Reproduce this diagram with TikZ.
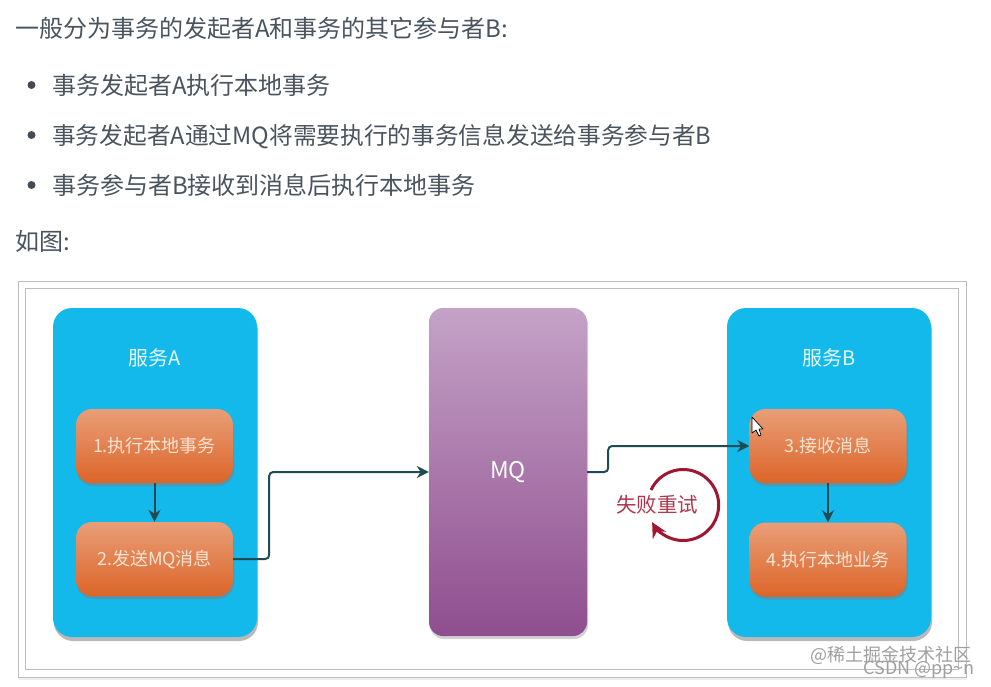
\documentclass[tikz,border=0pt]{standalone}
\usepackage{fontspec}
\setmainfont{Noto Sans CJK SC}
\usetikzlibrary{arrows.meta,shadows}
\definecolor{bodytext}{HTML}{4A545E}
\definecolor{framegray}{HTML}{BDBDBD}
\definecolor{svcblue}{HTML}{12B9EA}
\definecolor{linkdark}{HTML}{1F4B52}
\definecolor{retryred}{HTML}{A01530}
\definecolor{boxtop}{HTML}{E99E78}
\definecolor{boxbottom}{HTML}{DC6528}
\definecolor{boxtext}{HTML}{FBE3D3}
\definecolor{mqtop}{HTML}{C4A2C6}
\definecolor{mqbottom}{HTML}{8F4E8F}
\tikzset{
    para/.style={anchor=base west,inner sep=0pt,text=bodytext,font=\fontsize{24}{28}\selectfont},
    dot/.style={circle,fill=bodytext!90!black,inner sep=0pt,minimum size=8pt},
    panel/.style={draw=framegray,line width=1pt,fill=white,inner sep=0pt},
    service/.style={rounded corners=19pt,fill=svcblue,minimum width=204pt,minimum height=329pt,inner sep=0pt,
        drop shadow={shadow xshift=1pt,shadow yshift=-4pt,opacity=.55}},
    stepbox/.style={rounded corners=16pt,top color=boxtop,bottom color=boxbottom,
        minimum width=157pt,minimum height=74pt,inner sep=0pt,text=boxtext,font=\fontsize{18}{22}\selectfont,
        drop shadow={shadow xshift=1pt,shadow yshift=-3pt,opacity=.6}},
    queue/.style={rounded corners=14pt,top color=mqtop,bottom color=mqbottom,
        minimum width=158pt,minimum height=328pt,inner sep=0pt,text=white,font=\fontsize{23}{26}\selectfont,
        drop shadow={shadow xshift=1pt,shadow yshift=-3pt,opacity=.35}},
    title/.style={inner sep=0pt,text=white!90!svcblue,font=\fontsize{20}{24}\selectfont},
    link/.style={draw=linkdark,line width=2pt,rounded corners=4pt,-{Stealth[length=12pt,width=12pt]}},
    stamp/.style={inner sep=0pt,text=gray!75,font=\fontsize{18}{22}\selectfont},
}
\begin{document}
\begin{tikzpicture}[x=1pt,y=-1pt]
    \useasboundingbox (0,0) rectangle (991,686);
    \fill[white] (0,0) rectangle (991,686);
    % text above the figure
    \node[para] (intro) at (15,37) {一般分为事务的发起者A和事务的其它参与者B:};
    \node[dot] (dotA) at (31.5,85) {};
    \node[para] (itemA) at (52,94) {事务发起者A执行本地事务};
    \node[dot] (dotB) at (31.5,135) {};
    \node[para,font=\fontsize{23.7}{28}\selectfont] (itemB) at (52,144) {事务发起者A通过MQ将需要执行的事务信息发送给事务参与者B};
    \node[dot] (dotC) at (31.5,185) {};
    \node[para] (itemC) at (52,194) {事务参与者B接收到消息后执行本地事务};
    \node[para] (asfig) at (15,250) {如图:};
    % frames
    \node[panel,minimum width=948pt,minimum height=396pt,drop shadow={shadow xshift=1pt,shadow yshift=-3pt,opacity=.12}] (outer) at (492,479) {};
    \node[panel,minimum width=933pt,minimum height=381pt] (inner) at (491.5,478.5) {};
    % services
    \node[service] (svcA) at (155,472.5) {};
    \node[service] (svcB) at (829,472.5) {};
    \node[title] (titleA) at (155,358) {服务A};
    \node[title] (titleB) at (829,358) {服务B};
    \node[stepbox] (local) at (154.5,446) {1.执行本地事务};
    \node[stepbox] (send) at (154.5,559) {2.发送MQ消息};
    \node[stepbox] (recv) at (828,446) {3.接收消息};
    \node[stepbox] (exec) at (828,559.5) {4.执行本地业务};
    \node[queue] (mq) at (508,472) {MQ};
    % connectors
    \draw[link] (local) -- (send);
    \draw[link] (recv) -- (exec);
    \draw[link] (send.east) -- ++(36,0) |- (mq.west);
    \draw[link] (mq.east) -- ++(21,0) |- (recv.west);
    % retry loop
    \coordinate (retrystart) at (651,490);
    \draw[retryred,line width=3pt,-{Stealth[length=15pt,width=15pt]}] (retrystart) arc[start angle=205,end angle=511,radius=35.5];
    \node[inner sep=0pt,text=retryred!85!white,font=\fontsize{20.5}{24}\selectfont] (retry) at (657,505) {失败重试};
    % mouse pointer
    \draw[black,fill=white,line width=.7pt,line join=round] (752,417) -- (752,433) -- (756,430) -- (759,436) -- (761,435) -- (759,429) -- (763,429) -- cycle;
    % watermarks
    \node[stamp,anchor=base east] (stampA) at (972,661) {@稀土掘金技术社区};
    \node[stamp,anchor=base east] (stampB) at (975,674) {CSDN @pp\textasciitilde n};
\end{tikzpicture}
\end{document}
